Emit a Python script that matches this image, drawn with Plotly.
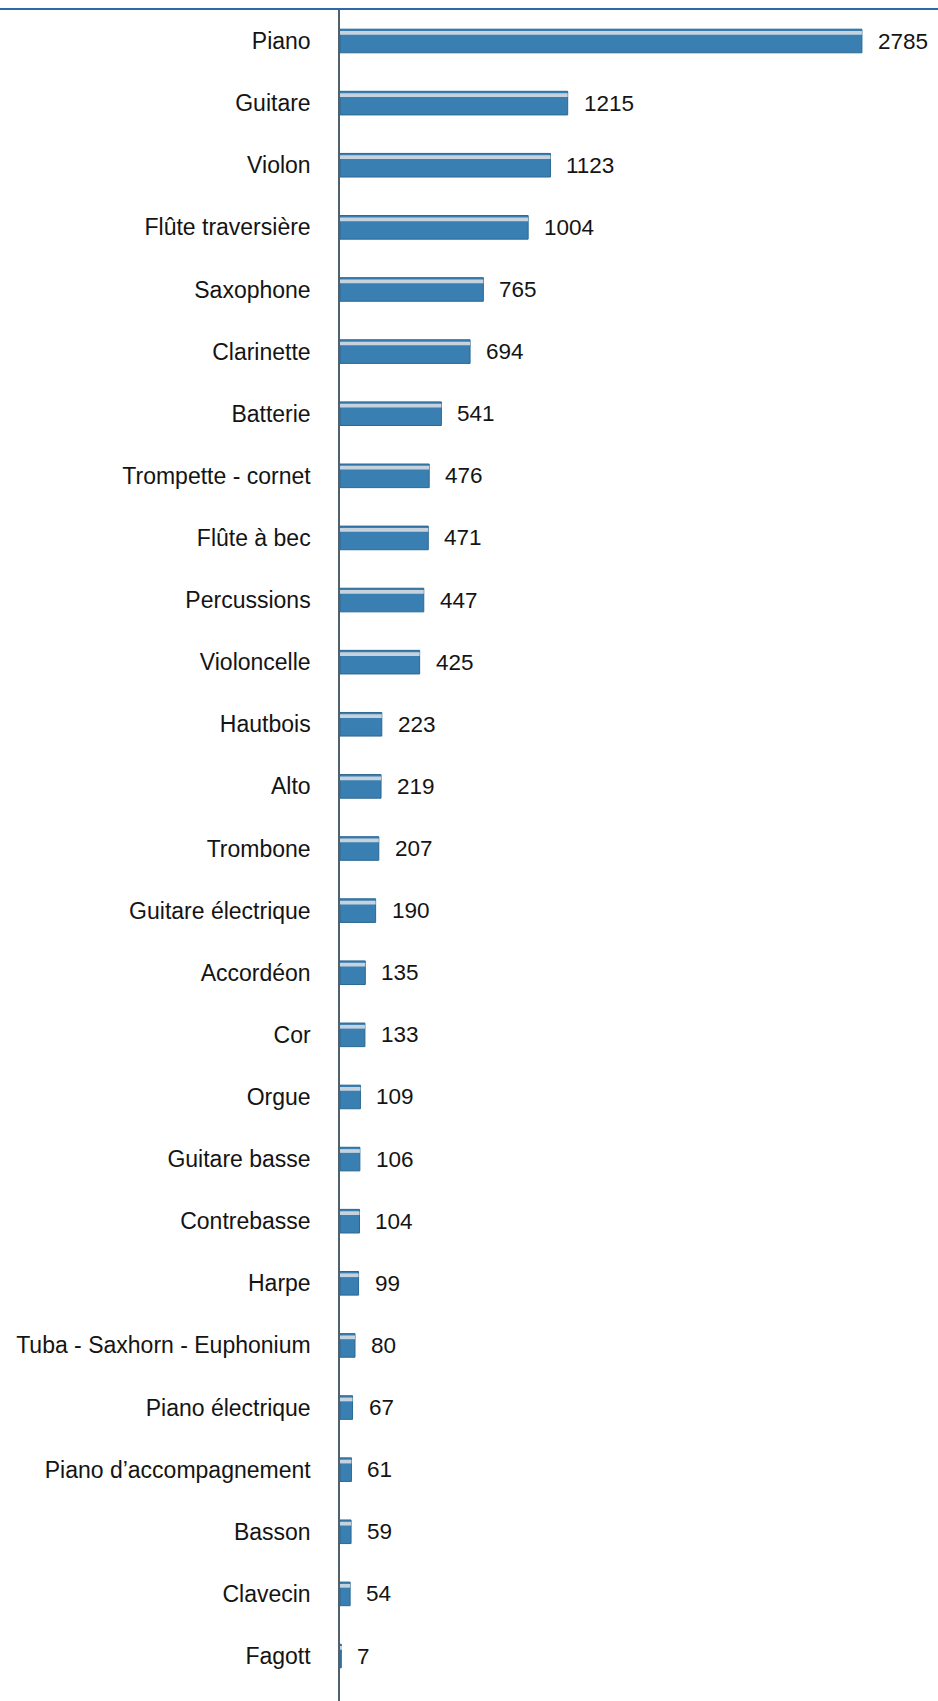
import plotly.graph_objects as go

# Instruments and their counts, largest first
instruments = [
    "Piano", "Guitare", "Violon", "Flûte traversière", "Saxophone", "Clarinette",
    "Batterie", "Trompette - cornet", "Flûte à bec", "Percussions", "Violoncelle",
    "Hautbois", "Alto", "Trombone", "Guitare électrique", "Accordéon", "Cor",
    "Orgue", "Guitare basse", "Contrebasse", "Harpe", "Tuba - Saxhorn - Euphonium",
    "Piano électrique", "Piano d’accompagnement", "Basson", "Clavecin", "Fagott",
]
counts = [
    2785, 1215, 1123, 1004, 765, 694, 541, 476, 471, 447, 425,
    223, 219, 207, 190, 135, 133, 109, 106, 104, 99, 80,
    67, 61, 59, 54, 7,
]

W, H = 938, 1701
AXIS_X = 340          # pixel position of the category axis
PX_PER_UNIT = 0.1874  # horizontal scale
BAR_W = 0.38
FONT = "Liberation Sans, Arial, Helvetica, sans-serif"
TEXT_COLOR = "#141414"

n = len(instruments)
x_max = (W - AXIS_X) / PX_PER_UNIT

fig = go.Figure()

# main bar body
fig.add_trace(go.Bar(
    y=instruments, x=counts, orientation="h",
    width=BAR_W, offset=-BAR_W / 2,
    marker=dict(color="#3a7fb1", line=dict(color="#2b6892", width=1)),
    hoverinfo="x+y", showlegend=False,
))
# light highlight strip along the top edge of each bar
fig.add_trace(go.Bar(
    y=instruments, x=counts, orientation="h",
    width=0.06, offset=-BAR_W / 2 + 0.03,
    marker=dict(color="#c6d3de", line=dict(width=0)),
    hoverinfo="skip", showlegend=False,
))

# value labels to the right of each bar
for name, v in zip(instruments, counts):
    fig.add_annotation(
        x=v, y=name, xref="x", yref="y", text=str(v),
        showarrow=False, xanchor="left", yanchor="middle", xshift=14,
        font=dict(family=FONT, size=22.5, color=TEXT_COLOR),
    )

# thin rule across the top of the page
fig.add_shape(type="line", xref="paper", yref="paper",
              x0=0, x1=1, y0=1.0, y1=1.0,
              line=dict(color="#2f68a8", width=2))

top_px = 9
bottom_px = H
step = (1656 - 41) / (n - 1)
plot_h = bottom_px - top_px
y_top = -0.5 - (41 - step / 2 - top_px) / step
y_bottom = y_top + plot_h / step

fig.update_layout(
    width=W, height=H,
    margin=dict(l=0, r=0, t=top_px, b=0),
    paper_bgcolor="white", plot_bgcolor="white",
    barmode="overlay",
    xaxis=dict(domain=[AXIS_X / W, 1], range=[0, x_max],
               showgrid=False, zeroline=False, showticklabels=False,
               showline=False, ticks=""),
    yaxis=dict(range=[y_bottom, y_top], type="category",
               showgrid=False, zeroline=False,
               showline=True, linecolor="#50606c", linewidth=1.5,
               ticks="", ticklabelstandoff=23, automargin=False,
               tickfont=dict(family=FONT, size=23, color=TEXT_COLOR)),
)

fig.write_html("out.html")
